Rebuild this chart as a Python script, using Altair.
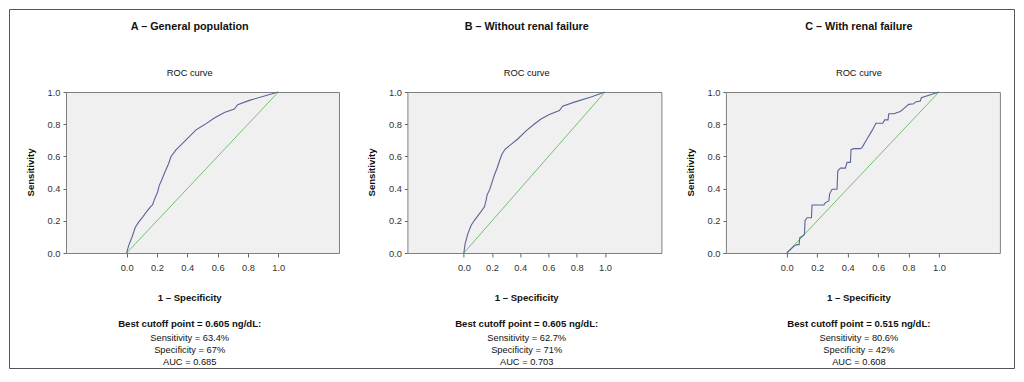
import altair as alt
import pandas as pd

FONT = "Liberation Sans, Arial, sans-serif"

# ---- data ----
a_fpr = [0.0, 0.013, 0.035, 0.057, 0.079, 0.105, 0.138, 0.160, 0.171, 0.182, 0.204, 0.215, 0.226,
         0.248, 0.277, 0.292, 0.325, 0.380, 0.457, 0.512, 0.578, 0.644, 0.710, 0.732, 0.809, 1.0]
a_tpr = [0.0, 0.046, 0.098, 0.160, 0.192, 0.223, 0.265, 0.290, 0.300, 0.330, 0.379, 0.420, 0.442,
         0.494, 0.556, 0.598, 0.640, 0.692, 0.765, 0.796, 0.838, 0.873, 0.894, 0.921, 0.948, 1.0]

b_fpr = [0.0, 0.009, 0.028, 0.052, 0.075, 0.111, 0.146, 0.158, 0.165, 0.182, 0.198, 0.217, 0.236,
         0.252, 0.269, 0.292, 0.335, 0.382, 0.441, 0.500, 0.547, 0.606, 0.677, 0.700, 0.783, 0.901, 1.0]
b_tpr = [0.0, 0.057, 0.119, 0.172, 0.203, 0.245, 0.287, 0.329, 0.361, 0.392, 0.434, 0.486, 0.528,
         0.570, 0.612, 0.644, 0.675, 0.708, 0.759, 0.801, 0.832, 0.860, 0.885, 0.912, 0.937, 0.969, 1.0]

c_fpr = [0.0, 0.046, 0.068, 0.081, 0.085, 0.101, 0.116, 0.120, 0.134, 0.162, 0.166, 0.243, 0.254,
         0.276, 0.282, 0.298, 0.330, 0.335, 0.352, 0.385, 0.396, 0.418, 0.422, 0.440, 0.484, 0.495,
         0.527, 0.560, 0.586, 0.630, 0.643, 0.665, 0.670, 0.702, 0.746, 0.772, 0.801, 0.834, 0.845,
         0.877, 0.884, 1.0]
c_tpr = [0.0, 0.042, 0.052, 0.052, 0.094, 0.104, 0.115, 0.202, 0.219, 0.219, 0.298, 0.298, 0.313,
         0.323, 0.369, 0.396, 0.396, 0.510, 0.527, 0.527, 0.563, 0.563, 0.642, 0.648, 0.648, 0.656,
         0.708, 0.760, 0.806, 0.806, 0.827, 0.827, 0.865, 0.865, 0.879, 0.900, 0.923, 0.927, 0.938,
         0.944, 0.965, 1.0]

diag = [0.0, 1.0]

titles = ["A – General population", "B – Without renal failure", "C – With renal failure"]
cutoffs = ["Best cutoff point = 0.605 ng/dL:", "Best cutoff point = 0.605 ng/dL:",
           "Best cutoff point = 0.515 ng/dL:"]
sens_txt = ["Sensitivity = 63.4%", "Sensitivity = 62.7%", "Sensitivity = 80.6%"]
spec_txt = ["Specificity = 67%", "Specificity = 71%", "Specificity = 42%"]
auc_txt = ["AUC = 0.685", "AUC = 0.703", "AUC = 0.608"]
subtitle = "ROC curve"
x_title = "1 – Specificity"
y_title = "Sensitivity"
ticks = [0.0, 0.2, 0.4, 0.6, 0.8, 1.0]

# ---- layout (pixels) ----
H = 161
TOP = -83          # frame top relative to plot top
BOTTOM = 277       # frame bottom relative to plot top
FRAME_L = -57      # frame left relative to panel A plot left
FRAME_R = 949      # frame right relative to panel A plot left
panels = [
    dict(fpr=a_fpr, tpr=a_tpr, w=273, cx=123.7),
    dict(fpr=b_fpr, tpr=b_tpr, w=254, cx=119.3),
    dict(fpr=c_fpr, tpr=c_tpr, w=274, cx=133.0),
]

ROC_COLOR = "#5d6399"
DIAG_COLOR = "#72c170"
FRAME = "#555555"
REG = 9.3
BOLD = 9.6
TITLE = 10.8


def text_layer(txt, x, y, bold=False, size=REG, angle=None, color="#111111"):
    kw = dict(font=FONT, fontSize=size, fontWeight="bold" if bold else "normal",
              align="center", baseline="middle", color=color)
    if angle is not None:
        kw["angle"] = angle
    return alt.Chart(pd.DataFrame({"t": [txt]})).mark_text(**kw).encode(
        text="t:N", x=alt.value(x), y=alt.value(y))


charts = []
for i, p in enumerate(panels):
    xs = alt.Scale(domain=[-0.4, 1.4], nice=False, zero=False)
    ys = alt.Scale(domain=[0, 1], nice=False)
    xax = alt.Axis(values=ticks, format=".1f", title=None, grid=False, domain=False,
                   tickSize=4, tickColor="#666666", labelPadding=6, labelFont=FONT,
                   labelFontSize=REG, labelColor="#333333")
    yax = alt.Axis(values=ticks, format=".1f", title=None, grid=False, domain=False,
                   tickSize=3, tickColor="#666666", labelPadding=3, labelFont=FONT,
                   labelFontSize=REG, labelColor="#333333")

    roc = pd.DataFrame({"fpr": p["fpr"], "tpr": p["tpr"], "o": list(range(len(p["fpr"])))})
    dg = pd.DataFrame({"fpr": diag, "tpr": diag})

    diag_line = alt.Chart(dg).mark_line(color=DIAG_COLOR, strokeWidth=1).encode(
        x=alt.X("fpr:Q", scale=xs, axis=xax), y=alt.Y("tpr:Q", scale=ys, axis=yax))
    roc_line = alt.Chart(roc).mark_line(color=ROC_COLOR, strokeWidth=1.1).encode(
        x=alt.X("fpr:Q", scale=xs, axis=xax), y=alt.Y("tpr:Q", scale=ys, axis=yax),
        order="o:Q")

    cx = p["cx"]
    layers = []
    if i == 0:
        frame = alt.Chart(pd.DataFrame({"k": [0]})).mark_rect(
            fillOpacity=0, stroke=FRAME, strokeWidth=1).encode(
            x=alt.value(FRAME_L + 0.5), x2=alt.value(FRAME_R - 0.5),
            y=alt.value(TOP + 0.5), y2=alt.value(BOTTOM - 0.5))
        layers.append(frame)
    layers += [diag_line, roc_line,
               text_layer(titles[i], cx, -65, bold=True, size=TITLE),
               text_layer(subtitle, cx, -19.3),
               text_layer(y_title, -35, H / 2, bold=True, size=BOLD, angle=270),
               text_layer(x_title, cx, 206, bold=True, size=BOLD),
               text_layer(cutoffs[i], cx, 232, bold=True, size=BOLD),
               text_layer(sens_txt[i], cx, 245.5),
               text_layer(spec_txt[i], cx, 257.8),
               text_layer(auc_txt[i], cx, 270)]
    charts.append(alt.layer(*layers).properties(width=p["w"], height=H))

inner = alt.hconcat(charts[1], charts[2], spacing=64.5, bounds="flush")
chart = alt.hconcat(charts[0], inner, spacing=68.4, bounds="flush").properties(
    padding=0, background="white"
).configure_view(fill="#f0f0f0", stroke="#808080", strokeWidth=1)

chart.save("out.html", embed_options={"renderer": "svg", "actions": False})
